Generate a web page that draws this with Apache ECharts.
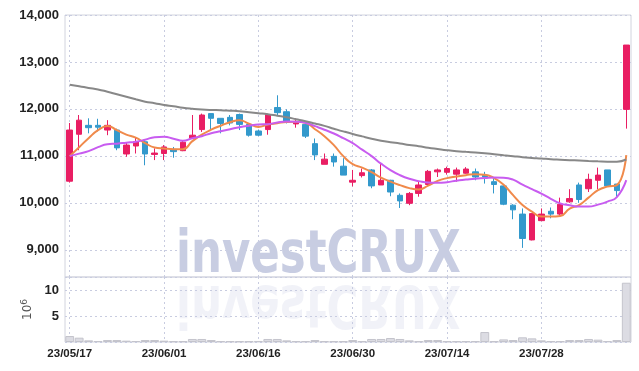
<!DOCTYPE html>
<html>
<head>
<meta charset="utf-8">
<script src="https://cdn.jsdelivr.net/npm/echarts@6/dist/echarts.min.js"></script>
<style>
html,body{margin:0;padding:0;background:#fff;}
#chart{width:639px;height:371px;}
</style>
</head>
<body>
<div id="chart"></div>
<script>
const dates = ['23/05/17','23/05/18','23/05/19','23/05/22','23/05/23','23/05/24','23/05/25','23/05/26','23/05/30','23/05/31',
'23/06/01','23/06/02','23/06/05','23/06/07','23/06/08','23/06/09','23/06/12','23/06/13','23/06/14','23/06/15',
'23/06/16','23/06/19','23/06/20','23/06/21','23/06/22','23/06/23','23/06/26','23/06/27','23/06/28','23/06/29',
'23/06/30','23/07/03','23/07/04','23/07/05','23/07/06','23/07/07','23/07/10','23/07/11','23/07/12','23/07/13',
'23/07/14','23/07/17','23/07/18','23/07/19','23/07/20','23/07/21','23/07/24','23/07/25','23/07/26','23/07/27',
'23/07/28','23/07/31','23/08/01','23/08/02','23/08/03','23/08/04','23/08/07','23/08/08','23/08/09','23/08/10'];

const opens = [10460,11460,11650,11650,11550,11550,11040,11210,11300,11030,
11050,11140,11110,11380,11560,11900,11800,11820,11880,11670,
11530,11560,12030,11940,11680,11670,11260,10820,10990,10780,
10440,10580,10700,10380,10480,10160,9990,10200,10390,10660,
10650,10610,10630,10660,10590,10450,10360,9950,9760,9210,
9620,9820,9760,10020,10380,10300,10480,10700,10400,11990];
const closes = [11550,11760,11600,11610,11650,11170,11230,11300,11040,11060,
11190,11090,11290,11440,11870,11800,11690,11700,11670,11440,
11440,11880,11920,11720,11720,11420,11020,10930,10870,10590,
10480,10640,10360,10480,10230,10040,10200,10380,10670,10700,
10730,10700,10720,10550,10550,10390,9970,9850,9240,9770,
9760,9760,9970,10090,10070,10500,10590,10360,10260,13360];
const lows = [10430,11120,11480,11520,11440,11120,10980,11050,10800,10910,
10910,10960,11100,11370,11510,11560,11480,11650,11550,11410,
11420,11450,11870,11690,11600,11380,10910,10820,10770,10590,
10350,10540,10310,10380,10140,9890,9950,10130,10370,10550,
10600,10450,10620,10480,10410,10200,9950,9650,9040,9200,
9610,9670,9720,10000,10000,10230,10290,10360,10130,11580];
const highs = [11700,11870,11800,11790,11760,11580,11280,11400,11350,11160,
11230,11190,11330,11870,11900,11900,11800,11870,11900,11700,
11560,11900,12290,11990,11800,11680,11370,11050,11050,10950,
10700,10730,10720,10840,10490,10200,10230,10450,10700,10730,
10770,10750,10760,10730,10660,10520,10390,9970,9880,9780,
9880,9900,10110,10290,10430,10620,10750,10700,10400,13360];

const ma5 = [10994,11185,11377,11547,11638,11547,11451,11387,11270,11179,
11157,11143,11143,11313,11451,11557,11642,11717,11760,11685,
11617,11668,11696,11723,11728,11706,11568,11419,11228,10994,
10823,10749,10653,10536,10451,10377,10313,10285,10366,10468,
10526,10560,10589,10611,10600,10526,10387,10164,9951,9813,
9706,9706,9717,9877,9951,10111,10270,10345,10377,11015];
const ma20 = [10994,11047,11100,11185,11249,11260,11281,11302,11345,11398,
11409,11366,11323,11377,11419,11483,11526,11568,11611,11643,
11668,11674,11711,11732,11728,11706,11632,11557,11477,11377,
11270,11132,10994,10834,10696,10589,10511,10462,10430,10426,
10440,10472,10494,10515,10526,10540,10536,10494,10387,10291,
10196,10085,9989,9946,9919,9919,9962,10026,10122,10483];
const maLong = [12515,12483,12447,12415,12366,12313,12260,12206,12153,12121,
12083,12057,12026,12004,11987,11977,11972,11962,11951,11930,
11909,11887,11855,11823,11781,11738,11689,11638,11579,11521,
11466,11415,11366,11323,11291,11264,11232,11206,11174,11147,
11121,11100,11085,11072,11057,11036,11015,10994,10972,10957,
10945,10930,10919,10909,10900,10891,10883,10877,10877,10923];

const volumes = [1.15,0.83,0.32,0.19,0.38,0.38,0.26,0.19,0.38,0.38,
0.26,0.15,0.15,0.58,0.58,0.38,0.15,0.15,0.15,0.15,
0.2,0.58,0.58,0.32,0.15,0.15,0.38,0.15,0.15,0.15,
0.38,0.15,0.58,0.58,0.77,0.58,0.32,0.15,0.38,0.38,
0.15,0.15,0.15,0.15,1.92,0.15,0.5,0.38,0.9,0.7,
0.32,0.15,0.15,0.38,0.38,0.58,0.45,0.19,0.38,11.4];

const priceMin = 8420, priceMax = 14000;
const volMax = 12.5, volInterval = 5;

const FONT = '"Liberation Sans", Arial, sans-serif';
const gridColor = '#c8cce0';
const borderColor = '#d2d4de';
const wmColor = '#c8cde2';

const candleData = opens.map((o, i) => [o, closes[i], lows[i], highs[i]]);

const chart = echarts.init(document.getElementById('chart'), null, {renderer: 'canvas'});
const splitV = {show: true, interval: 9, alignWithLabel: true, lineStyle: {color: gridColor, type: [2, 3], width: 1}};

chart.setOption({
  animation: false,
  backgroundColor: '#fff',
  grid: [
    {left: 65, width: 566, top: 15, height: 262, show: true, borderColor: borderColor, borderWidth: 1},
    {left: 65, width: 566, top: 277, height: 65, show: true, borderColor: borderColor, borderWidth: 1}
  ],
  xAxis: [
    {type: 'category', gridIndex: 0, data: dates, boundaryGap: true,
     axisLine: {show: false}, axisTick: {show: false}, axisLabel: {show: false},
     splitLine: splitV},
    {type: 'category', gridIndex: 1, data: dates, boundaryGap: true,
     axisLine: {show: false}, axisTick: {show: false},
     axisLabel: {interval: 9, margin: 6, color: '#222', fontFamily: FONT, fontWeight: 'bold', fontSize: 11.5},
     splitLine: splitV}
  ],
  yAxis: [
    {type: 'value', gridIndex: 0, min: priceMin, max: priceMax, splitNumber: 5,
     axisLine: {show: false}, axisTick: {show: false},
     axisLabel: {showMinLabel: false, margin: 6, color: '#222', fontFamily: FONT, fontWeight: 'bold', fontSize: 13,
       formatter: v => v.toLocaleString('en-US')},
     splitLine: {lineStyle: {color: gridColor, type: [2, 3], width: 1}}},
    {type: 'value', gridIndex: 1, min: 0, max: volMax, interval: volInterval,
     axisLine: {show: false}, axisTick: {show: false},
     axisLabel: {showMinLabel: false, showMaxLabel: false, margin: 6, color: '#222', fontFamily: FONT, fontWeight: 'bold', fontSize: 13},
     splitLine: {lineStyle: {color: gridColor, type: [2, 3], width: 1}},
     name: '10{s|6}', nameLocation: 'middle', nameRotate: 90, nameGap: 17,
     nameTextStyle: {color: '#555', fontFamily: 'DejaVu Sans', fontSize: 12,
       rich: {s: {fontSize: 9, verticalAlign: 'top', color: '#555', fontFamily: 'DejaVu Sans', padding: [0,0,6,0]}}}}
  ],
  graphic: [
    {type: 'text', z: 1, x: 176, y: 228, scaleX: 0.75, originX: 0, silent: true,
     style: {x: 0, y: 0, text: 'investCRUX', font: 'bold 58px "DejaVu Sans"', fill: wmColor, verticalAlign: 'top'}},
    {type: 'text', z: 1, x: 176, y: 228, scaleX: 0.75, scaleY: -1, originX: 0, originY: 51, silent: true,
     style: {x: 0, y: 0, text: 'investCRUX', font: 'bold 58px "DejaVu Sans"', fill: wmColor, opacity: 0.25, verticalAlign: 'top'}}
  ],
  series: [
    {type: 'candlestick', name: 'price', xAxisIndex: 0, yAxisIndex: 0, data: candleData, barWidth: 6,
     itemStyle: {color: '#e91e63', color0: '#3399cc', borderColor: '#e91e63', borderColor0: '#3399cc', borderWidth: 1}},
    {type: 'line', name: 'MA5', xAxisIndex: 0, yAxisIndex: 0, data: ma5, smooth: true, showSymbol: false,
     lineStyle: {color: '#f08a4b', width: 2}, z: 3},
    {type: 'line', name: 'MA20', xAxisIndex: 0, yAxisIndex: 0, data: ma20, smooth: true, showSymbol: false,
     lineStyle: {color: '#c85cf0', width: 2}, z: 3},
    {type: 'line', name: 'MA', xAxisIndex: 0, yAxisIndex: 0, data: maLong, smooth: true, showSymbol: false,
     lineStyle: {color: '#888888', width: 2}, z: 3},
    {type: 'bar', name: 'volume', xAxisIndex: 1, yAxisIndex: 1, data: volumes, barCategoryGap: '6%',
     itemStyle: {color: '#dcdce3', borderColor: '#c4c4cc', borderWidth: 1}}
  ]
});
</script>
</body>
</html>
